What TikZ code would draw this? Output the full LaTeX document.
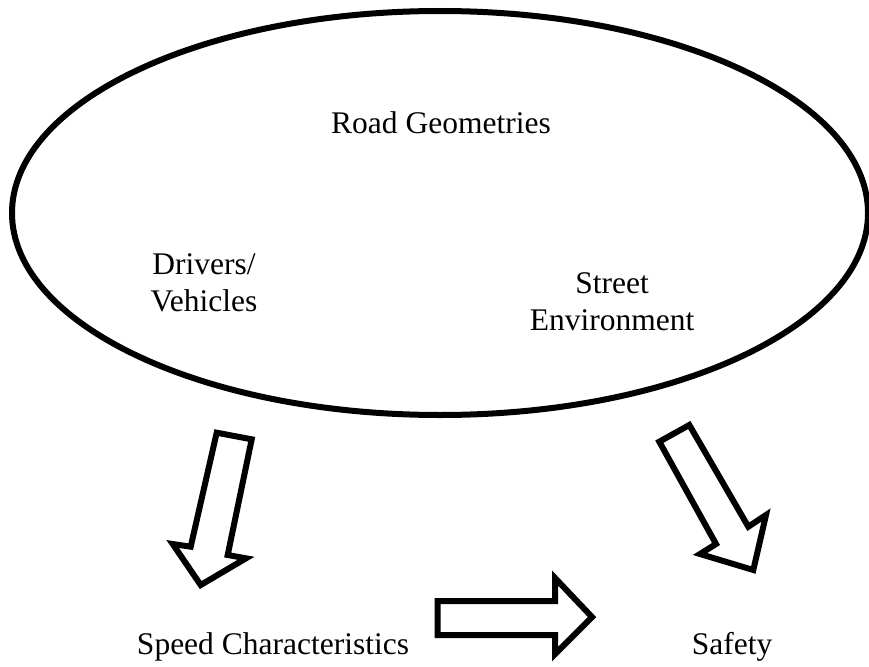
\documentclass[tikz,border=0pt]{standalone}
\usepackage{fontspec}
\setmainfont{Liberation Serif}
\usetikzlibrary{shapes.geometric}
\begin{document}
\begin{tikzpicture}[x=1pt,y=-1pt,
  label text/.style={inner sep=0pt, anchor=base, align=center,
    font=\fontsize{31.5}{37}\selectfont},
  blockarrow/.style={draw=black, fill=white, line width=6pt, line join=miter}]
\useasboundingbox (0,0) rectangle (869,666);
\fill[white] (0,0) rectangle (869,666);

% the group of influencing factors
\node[ellipse, draw=black, line width=6pt, minimum width=856pt, minimum height=404pt,
  inner sep=0pt] (factors) at (440,213) {};

% labels (base anchor sits on the last line's baseline)
\node[label text] (road) at (441,133) {Road Geometries};
\node[label text] (drivers) at (204,311.5) {Drivers/\\Vehicles};
\node[label text] (street) at (612,330) {Street\\Environment};

\node[label text] (speed) at (273,654) {Speed Characteristics};
\node[label text] (safety) at (732,654) {Safety};

% block arrows
\draw[blockarrow] (216.7,432.7) -- (251.7,439.3) -- (227.7,555) -- (246,558.3)
  -- (200.7,585) -- (172.7,544) -- (190.7,546.7) -- cycle;
\draw[blockarrow] (659.3,441.7) -- (689.3,425) -- (748.3,526.7) -- (766,515)
  -- (753.3,570) -- (700,554) -- (716,544) -- cycle;
\draw[blockarrow] (437.5,601) -- (555,601) -- (555,578) -- (592,617)
  -- (555,654) -- (555,635) -- (437.5,635) -- cycle;
\end{tikzpicture}
\end{document}
